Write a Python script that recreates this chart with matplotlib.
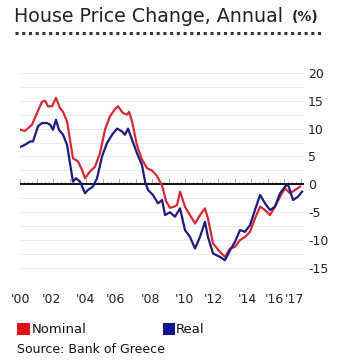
import matplotlib
matplotlib.use("Agg")
import matplotlib.pyplot as plt
from matplotlib.patches import Rectangle
from matplotlib.lines import Line2D
import numpy as np

# ---- data ----
nominal_years = [0.00, 0.30, 0.73, 1.03, 1.33, 1.52, 1.70, 1.94, 2.18, 2.42, 2.61, 2.85,
                 3.03, 3.21, 3.52, 3.76, 3.94, 4.24, 4.55, 4.85, 5.15, 5.45, 5.76, 5.94,
                 6.24, 6.48, 6.61, 6.79, 7.09, 7.39, 7.70, 8.00, 8.30, 8.61, 8.85, 9.09,
                 9.33, 9.52, 9.70, 10.00, 10.30, 10.61, 10.91, 11.21, 11.39, 11.70, 12.12,
                 12.42, 12.73, 13.03, 13.33, 13.64, 13.94, 14.24, 14.55, 14.85, 15.15,
                 15.45, 15.76, 16.06, 16.36, 16.67, 16.97]
nominal = [9.8, 9.6, 10.7, 12.8, 14.8, 15.0, 14.0, 14.0, 15.5, 13.7, 13.0, 11.3,
           8.0, 4.7, 4.1, 2.6, 1.1, 2.3, 3.2, 5.6, 9.8, 12.2, 13.5, 14.0,
           12.8, 12.5, 13.0, 11.3, 7.0, 4.5, 2.9, 2.5, 1.5, -0.2, -3.0, -4.2,
           -4.0, -3.7, -1.3, -4.0, -5.5, -7.0, -5.5, -4.3, -6.1, -10.6, -12.1,
           -13.0, -11.5, -11.2, -10.0, -9.4, -8.5, -6.1, -4.0, -4.6, -5.5,
           -4.0, -2.2, -0.7, -1.6, -1.0, -0.4]

real_years = [0.00, 0.30, 0.61, 0.79, 1.09, 1.33, 1.64, 1.82, 2.00, 2.18, 2.36, 2.61,
              2.85, 3.03, 3.21, 3.39, 3.64, 3.94, 4.12, 4.42, 4.67, 4.97, 5.27, 5.58,
              5.88, 6.18, 6.36, 6.55, 6.79, 7.09, 7.39, 7.58, 7.76, 8.06, 8.36, 8.61,
              8.79, 9.09, 9.39, 9.70, 10.00, 10.30, 10.61, 10.91, 11.21, 11.39, 11.70,
              12.12, 12.42, 12.73, 13.03, 13.33, 13.64, 13.94, 14.24, 14.55, 14.85,
              15.15, 15.45, 15.76, 16.06, 16.24, 16.55, 16.85, 17.09]
real = [6.7, 7.1, 7.7, 7.7, 10.4, 11.0, 11.0, 10.7, 9.8, 11.6, 9.8, 8.9,
        7.1, 3.8, 0.5, 1.1, 0.5, -1.6, -1.0, -0.4, 1.1, 5.0, 7.4, 8.9,
        10.0, 9.5, 8.9, 10.0, 8.0, 5.6, 3.5, 0.5, -1.0, -1.9, -3.4, -2.8,
        -5.5, -5.0, -5.8, -4.3, -8.2, -9.4, -11.5, -9.4, -6.7, -9.4, -12.4,
        -13.0, -13.6, -11.8, -10.3, -8.2, -8.5, -7.3, -4.6, -1.9, -3.4,
        -4.6, -4.0, -1.6, -0.4, 0.0, -2.8, -2.2, -1.3]

base_year = 2000
x_tick_pos = [0.06, 1.88, 3.94, 5.76, 7.88, 9.94, 11.70, 13.76, 15.39, 16.61]
x_tick_labels = ["'00", "'02", "'04", "'06", "'08", "'10", "'12", "'14", "'16", "'17"]
y_ticks = [20, 15, 10, 5, 0, -5, -10, -15]

title = "House Price Change, Annual"
unit = "(%)"
series_names = ["Nominal", "Real"]
source = "Source: Bank of Greece"

red = "#d42a35"
blue = "#1c1c80"

W, H = 363, 362
fig = plt.figure(figsize=(W / 100, H / 100), dpi=100)
fig.patch.set_facecolor("white")

def fx(px):
    return px / W

def fy(py):
    return 1 - py / H

ax = fig.add_axes([fx(20), fy(282), fx(303.8) - fx(20), fy(60) - fy(282)])
ax.set_xlim(0, 17.2)
ax.set_ylim(-17.5, 22.3)
for s in ax.spines.values():
    s.set_visible(False)

# faint gridlines
for g in np.arange(-15, 20.01, 2.5):
    ax.axhline(g, color="#ebebeb", lw=0.7, zorder=0)

# ruler ticks on the zero line
qs = np.arange(0, 17.01, 0.25)
for q in qs:
    h = 0.9 if abs(q - round(q)) < 1e-6 else 0.5
    ax.plot([q, q], [0, h], color="#9a9a9a", lw=0.6, zorder=1)
ax.axhline(0, color="#111111", lw=1.4, zorder=2)

ax.plot(nominal_years, nominal, color=red, lw=1.6, zorder=3, solid_joinstyle="round")
ax.plot(real_years, real, color=blue, lw=1.6, zorder=4, solid_joinstyle="round")

ax.yaxis.tick_right()
ax.set_yticks(y_ticks)
ax.set_yticklabels([str(t) for t in y_ticks])
ax.tick_params(axis="y", length=0, pad=3, labelsize=9, labelcolor="#222222")
ax.set_xticks(x_tick_pos)
ax.set_xticklabels(x_tick_labels)
ax.tick_params(axis="x", length=0, pad=8, labelsize=9, labelcolor="#222222")

# title
fig.text(fx(14), fy(16), title, fontsize=13.7, color="#222222", va="center", ha="left")
fig.text(fx(292), fy(17), unit, fontsize=10, fontweight="bold", color="#222222",
         va="center", ha="left")
fig.add_artist(Line2D([fx(15), fx(322)], [fy(33), fy(33)], transform=fig.transFigure,
                      color="#333333", lw=2.2, linestyle=(0, (1, 1.2)),
                      dash_capstyle="butt"))

# legend
fig.add_artist(Rectangle((fx(17), fy(335)), fx(13), 12 / H, transform=fig.transFigure,
                         facecolor="#e0141c", edgecolor="none"))
fig.text(fx(31.5), fy(329.5), series_names[0], fontsize=9.5, color="#111111",
         va="center", ha="left")
fig.add_artist(Rectangle((fx(163), fy(335)), fx(12), 12 / H, transform=fig.transFigure,
                         facecolor="#14148c", edgecolor="none"))
fig.text(fx(176), fy(329.5), series_names[1], fontsize=9.5, color="#111111",
         va="center", ha="left")
fig.text(fx(17), fy(349.5), source, fontsize=9, color="#111111", va="center", ha="left")

fig.savefig("out.png", dpi=100, facecolor="white")
